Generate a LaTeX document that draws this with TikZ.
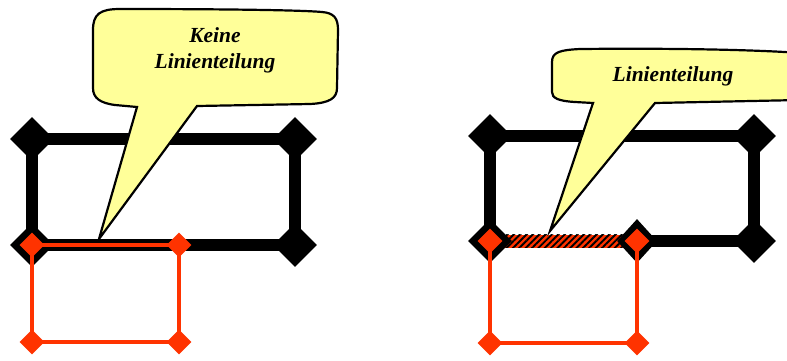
\documentclass[tikz,border=0pt]{standalone}
\usepackage{fontspec}
\setmainfont{Liberation Serif}
\usetikzlibrary{shapes.geometric,patterns.meta,calc}
\definecolor{cred}{HTML}{FF3300}
\definecolor{cyel}{HTML}{FFFF99}
\begin{document}
\begin{tikzpicture}[x=1pt,y=-1pt,
  bdia/.style={diamond,fill=black,inner sep=0pt,minimum width=44pt,minimum height=44pt},
  rdia/.style={diamond,fill=cred,inner sep=0pt,minimum width=25pt,minimum height=25pt},
  bline/.style={line width=12pt,black},
  rline/.style={line width=4pt,cred},
  callout/.style={draw=black,line width=2.2pt,fill=cyel,line join=miter},
  ctext/.style={font=\bfseries\itshape\fontsize{21.5}{26}\selectfont,align=center,inner sep=0pt}]
\clip (0,0) rectangle (787,360);
% ---------- left panel ----------
\coordinate (LA) at (32,139);
\coordinate (LB) at (295,139);
\coordinate (LC) at (295,245);
\coordinate (LD) at (32,245);
\coordinate (LR2) at (179,245);
\coordinate (LR3) at (179,342);
\coordinate (LR4) at (32,342);
\draw[bline] (LA) -- (LB) -- (LC) -- (LD) -- cycle;
\node[bdia] (lba) at (LA) {};
\node[bdia] (lbb) at (LB) {};
\node[bdia] (lbc) at (LC) {};
\node[bdia] (lbd) at (LD) {};
\draw[callout] (93,30) .. controls (93,14) and (100,9) .. (120,9)
  .. controls (220,9) and (300,10) .. (322,12)
  .. controls (334,13) and (338,18) .. (338,30)
  -- (337,88) .. controls (337,98) and (330,103) .. (310,104)
  -- (197,106) -- (99,239) -- (137,107) -- (115,105)
  .. controls (100,103) and (93,98) .. (93,88) -- cycle;
\node[ctext] (ltext) at (215,50) {Keine\\Linienteilung};
\draw[rline] (LD) -- (LR2) -- (LR3) -- (LR4) -- cycle;
\node[rdia] (lra) at (LD) {};
\node[rdia] (lrb) at (LR2) {};
\node[rdia] (lrc) at (LR3) {};
\node[rdia] (lrd) at (LR4) {};
% ---------- right panel ----------
\coordinate (RA) at (490,136);
\coordinate (RB) at (754,136);
\coordinate (RC) at (754,241);
\coordinate (RM) at (637,241);
\coordinate (RD) at (490,241);
\coordinate (RR3) at (637,343);
\coordinate (RR4) at (490,343);
\draw[bline] (RD) -- (RA) -- (RB) -- (RC) -- (RM);
\fill[cred] ($(RD)+(0,-6.5)$) rectangle ($(RM)+(0,6.5)$);
\path[pattern={Lines[angle=45,distance=4.5pt,line width=1.9pt]},pattern color=black]
  ($(RD)+(0,-6.5)$) rectangle ($(RM)+(0,6.5)$);
\node[bdia] (rba) at (RA) {};
\node[bdia] (rbb) at (RB) {};
\node[bdia] (rbc) at (RC) {};
\node[bdia] (rbd) at (RD) {};
\node[bdia,minimum width=40pt] (rbm) at (RM) {};
\draw[callout] (552,62) .. controls (552,52) and (560,50) .. (580,49)
  .. controls (680,48) and (760,50) .. (800,53)
  -- (800,100) -- (655,103) -- (550,231) -- (593,103) -- (575,102)
  .. controls (558,101) and (552,98) .. (552,92) -- cycle;
\node[ctext] (rtext) at (673,76) {Linienteilung};
\draw[rline] (RD) -- (RR4) -- (RR3) -- (RM);
\node[rdia] (rra) at (RD) {};
\node[rdia] (rrb) at (RM) {};
\node[rdia] (rrc) at (RR3) {};
\node[rdia] (rrd) at (RR4) {};
\end{tikzpicture}
\end{document}
